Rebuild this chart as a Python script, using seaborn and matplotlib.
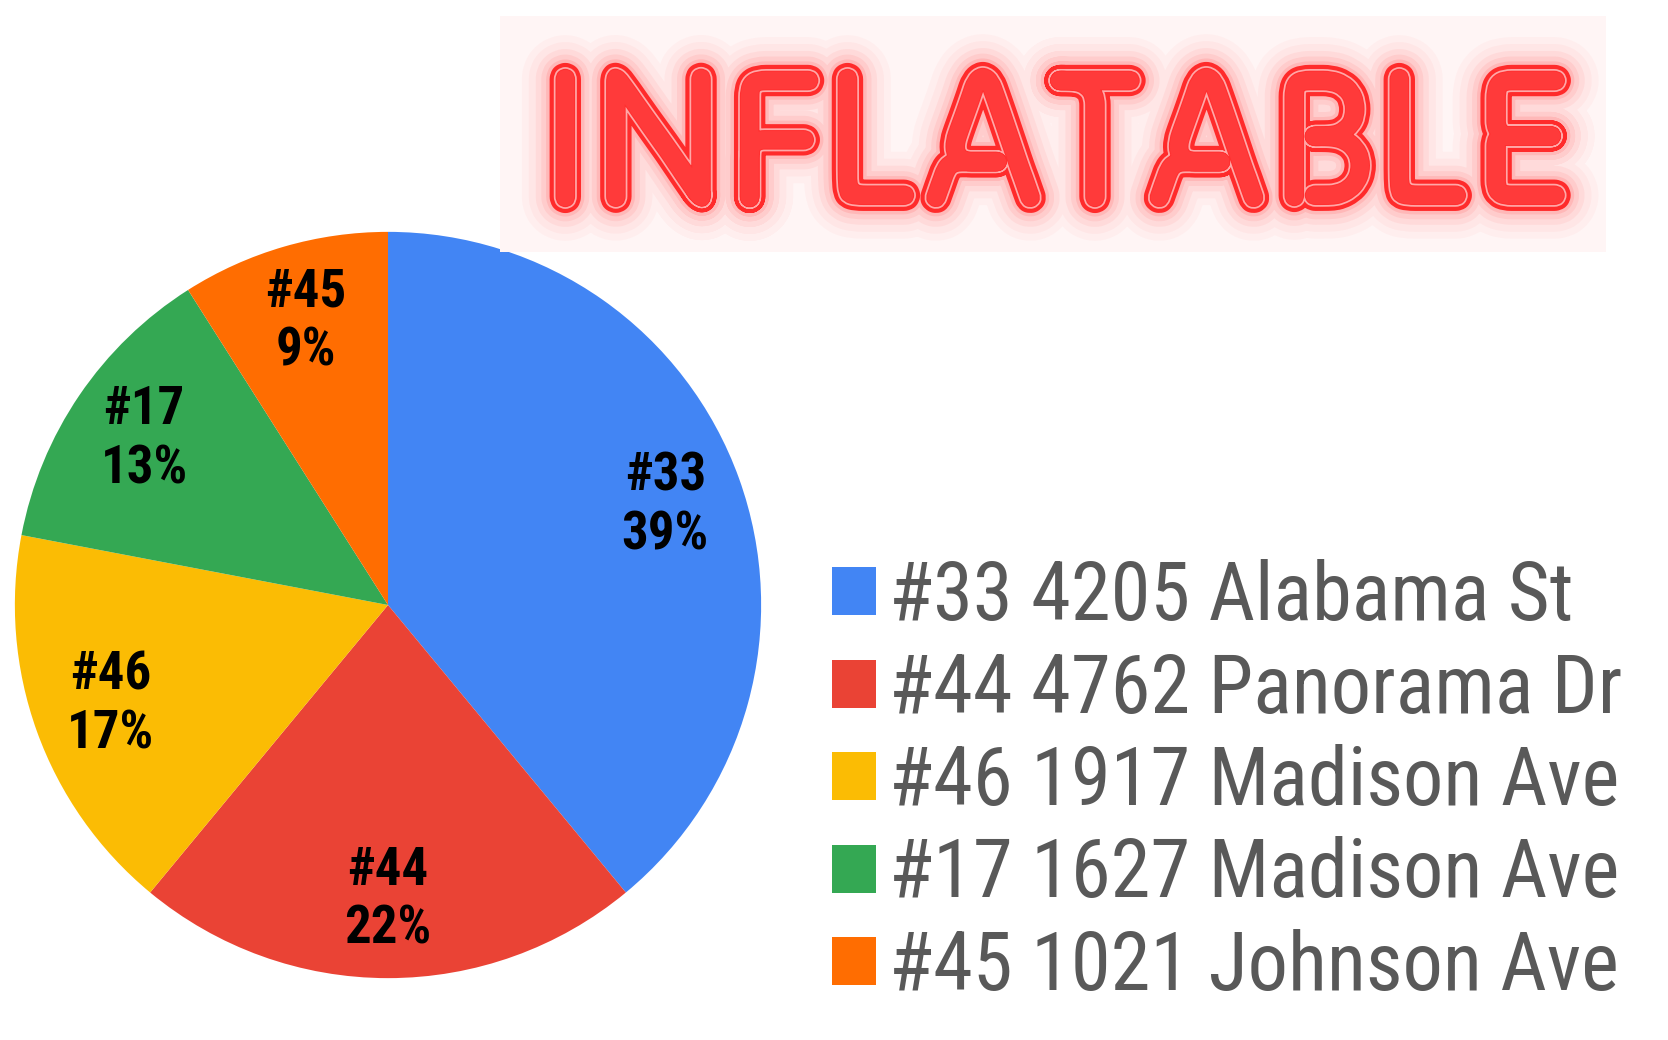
import numpy as np
import matplotlib
matplotlib.use("Agg")
import matplotlib.pyplot as plt
import matplotlib.patheffects as pe
from matplotlib import font_manager
from matplotlib.patches import Patch, Rectangle
import seaborn as sns

# chart data
lot_ids = ["#33", "#44", "#46", "#17", "#45"]
addresses = ["4205 Alabama St", "4762 Panorama Dr", "1917 Madison Ave",
             "1627 Madison Ave", "1021 Johnson Ave"]
shares = [39, 22, 17, 13, 9]
slice_colors = ["#4285F4", "#EA4335", "#FBBC04", "#34A853", "#FF6D01"]
title_text = "INFLATABLE"

installed = {f.name for f in font_manager.fontManager.ttflist}

def pick(cands):
    for c in cands:
        if c in installed:
            return c
    return "DejaVu Sans"

cond_font = pick(["Roboto Condensed", "Archivo Narrow", "Sofia Sans Condensed", "Liberation Sans Narrow"])
title_font = pick(["Tilt Neon", "Varela Round", "DejaVu Sans"])

sns.set_theme(style="white")
plt.rcParams["font.family"] = [cond_font, "DejaVu Sans"]
palette = sns.color_palette(slice_colors)

fig = plt.figure(figsize=(16.68, 10.40), dpi=100)
fig.patch.set_facecolor("white")

# pie
ax = fig.add_axes([13 / 1668, (1040 - 605 - 375) / 1040, 750 / 1668, 750 / 1040])
wedges, _ = ax.pie(shares, colors=palette, startangle=90, counterclock=False,
                   radius=1.0, wedgeprops=dict(linewidth=0))
ax.set_xlim(-1.005, 1.005)
ax.set_ylim(-1.005, 1.005)
ax.set_aspect("equal")
ax.axis("off")

for w, lid, pct in zip(wedges, lot_ids, shares):
    ang = np.deg2rad((w.theta1 + w.theta2) / 2)
    ax.text(0.79 * np.cos(ang), 0.79 * np.sin(ang), f"{lid}\n{pct}%",
            ha="center", va="center", fontsize=38, fontweight="bold",
            color="black", linespacing=1.2)

# legend
handles = [Patch(facecolor=c, edgecolor="none") for c in palette]
labels = [f"{lid} {addr}" for lid, addr in zip(lot_ids, addresses)]
fig.legend(handles, labels, loc="center left", bbox_to_anchor=(832 / 1668, 1 - 783 / 1040),
           frameon=False, fontsize=58, labelcolor="#595959", handlelength=0.54,
           handleheight=0.54, handletextpad=0.17, labelspacing=0.18,
           borderpad=0, borderaxespad=0)

# glowing title on a pale panel
fig.patches.append(Rectangle((500 / 1668, 1 - 252 / 1040), 1106 / 1668, 236 / 1040,
                             transform=fig.transFigure, facecolor="#fff5f5",
                             edgecolor="none", zorder=0))
glow = [pe.Stroke(linewidth=lw, foreground="#ff2a2a", alpha=a)
        for lw, a in [(50, 0.03), (40, 0.04), (30, 0.06), (22, 0.08), (15, 0.12)]]
fig.text(1056 / 1668, 1 - 204 / 1040, title_text, ha="center", va="baseline",
         fontsize=140, family=[title_font, "DejaVu Sans"], color="#ff3a3a",
         path_effects=glow + [pe.Stroke(linewidth=10, foreground="#ff2b2b"),
                              pe.Stroke(linewidth=4, foreground="#ffa8a8"),
                              pe.Stroke(linewidth=1.5, foreground="#ff3030"),
                              pe.Normal()])

fig.savefig("out.png", dpi=100, facecolor="white")
